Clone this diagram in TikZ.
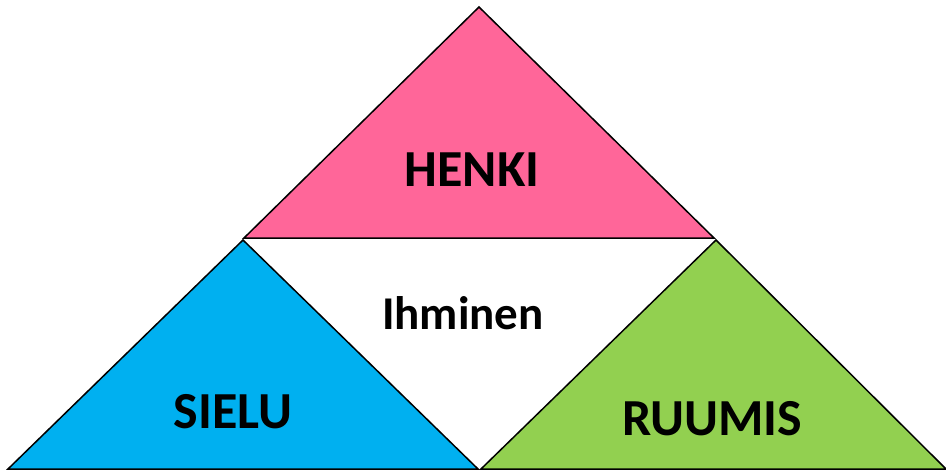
\documentclass[tikz,border=0pt]{standalone}
\usepackage{fontspec}
\setmainfont{Carlito}
\usetikzlibrary{positioning,calc}
\definecolor{henkipink}{RGB}{255,102,153}
\definecolor{sielublue}{RGB}{0,176,240}
\definecolor{ruumisgreen}{RGB}{146,208,80}

\tikzset{
  part/.style={draw=black, line width=1.5pt, line join=miter},
  biglabel/.style={font=\fontsize{52}{58}\selectfont\bfseries, inner sep=0pt},
  midlabel/.style={font=\fontsize{47}{54}\selectfont\bfseries, inner sep=0pt}
}

\begin{document}
\begin{tikzpicture}[x=1pt,y=-1pt]
    \useasboundingbox (0,0) rectangle (946,471);
    % corners
    \coordinate (top) at (479,7);
    \coordinate (hl) at (244,238);
    \coordinate (hr) at (714,238);
    \coordinate (sl) at (8,469);
    \coordinate (sm) at (478,469);
    \coordinate (st) at (243,240);
    \coordinate (rt) at (716,240);
    \coordinate (rm) at (481,469);
    \coordinate (rr) at (946,469);
    % the three parts
    \filldraw[part, fill=henkipink] (top) -- (hr) -- (hl) -- cycle;
    \filldraw[part, fill=sielublue] (st) -- (sm) -- (sl) -- cycle;
    \filldraw[part, fill=ruumisgreen] (rt) -- (rr) -- (rm) -- cycle;
    % labels
    \node[biglabel] (henki) at (472,170) {HENKI};
    \node[midlabel] (ihminen) at (463,313) {Ihminen};
    \node[biglabel] (sielu) at (233,412) {SIELU};
    \node[biglabel] (ruumis) at (712,419) {RUUMIS};
\end{tikzpicture}
\end{document}
